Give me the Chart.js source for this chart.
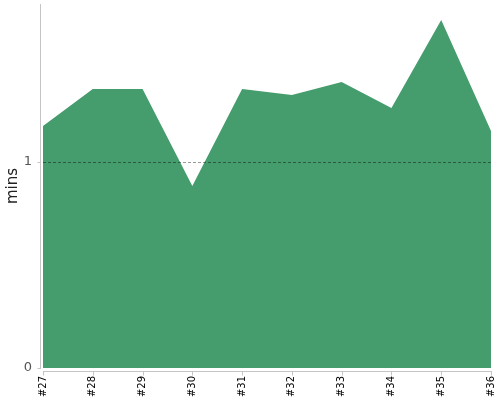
<!DOCTYPE html>
<html lang="en">

<head>
    <meta charset="UTF-8">
    <title>Build times</title>
    <script src="https://cdn.jsdelivr.net/npm/chart.js"></script>
    <style>
        html, body { margin: 0; padding: 0; background: #fff; }
        #wrap { width: 500px; height: 400px; }
    </style>
</head>

<body>
    <div id="wrap"><canvas id="buildChart" width="500" height="400"></canvas></div>
    <script>
        // Data
        const builds = ['#27', '#28', '#29', '#30', '#31', '#32', '#33', '#34', '#35', '#36'];
        const minutes = [1.175, 1.354, 1.354, 0.883, 1.354, 1.325, 1.388, 1.262, 1.689, 1.150];
        const yTicks = [0, 1];
        const refLine = 1;

        const axisColor = '#c4c4c4';

        // Dashed reference line on top of the area, plus offset axis lines and ticks
        const refLinePlugin = {
            id: 'refLine',
            afterDatasetsDraw(chart) {
                const { ctx, chartArea, scales } = chart;
                const y = Math.round(scales.y.getPixelForValue(refLine)) + 0.5;
                ctx.save();
                ctx.strokeStyle = 'rgba(0, 0, 0, 0.4)';
                ctx.lineWidth = 1;
                ctx.setLineDash([3, 2]);
                ctx.beginPath();
                ctx.moveTo(chartArea.left, y);
                ctx.lineTo(chartArea.right, y);
                ctx.stroke();
                ctx.setLineDash([]);

                // axes sit a few pixels away from the plot
                ctx.strokeStyle = axisColor;
                const ax = Math.round(chartArea.left) - 3 + 0.5;
                const ay = Math.round(chartArea.bottom) + 3 + 0.5;
                ctx.beginPath();
                ctx.moveTo(ax, chartArea.top);
                ctx.lineTo(ax, chartArea.bottom + 1);
                yTicks.forEach(v => {
                    const ty = Math.round(scales.y.getPixelForValue(v)) + 0.5;
                    ctx.moveTo(ax - 3, ty);
                    ctx.lineTo(ax, ty);
                });
                ctx.moveTo(chartArea.left, ay);
                ctx.lineTo(chartArea.right + 1, ay);
                builds.forEach((b, i) => {
                    const tx = Math.round(scales.x.getPixelForValue(i)) + 0.5;
                    ctx.moveTo(tx, ay);
                    ctx.lineTo(tx, ay + 4);
                });
                ctx.stroke();
                ctx.restore();
            }
        };

        new Chart(document.getElementById('buildChart'), {
            type: 'line',
            data: {
                labels: builds,
                datasets: [{
                    data: minutes,
                    fill: 'origin',
                    backgroundColor: '#459c6d',
                    borderWidth: 0,
                    pointRadius: 0,
                    tension: 0
                }]
            },
            options: {
                responsive: false,
                animation: false,
                layout: { padding: { top: 4, right: 9, left: 0, bottom: 0 } },
                plugins: {
                    legend: { display: false },
                    tooltip: { enabled: false }
                },
                scales: {
                    x: {
                        offset: false,
                        afterFit(scale) {
                            scale.height = 32;
                            scale.paddingLeft = 0;
                            scale.paddingRight = 0;
                        },
                        grid: { display: false, drawTicks: true, tickLength: 4, tickColor: 'rgba(0,0,0,0)' },
                        border: { display: false },
                        ticks: {
                            color: '#000',
                            font: { family: 'DejaVu Sans', size: 10 },
                            maxRotation: 90,
                            minRotation: 90,
                            autoSkip: false,
                            padding: 4
                        }
                    },
                    y: {
                        min: 0,
                        max: 1.767,
                        afterBuildTicks(scale) {
                            scale.ticks = yTicks.map(v => ({ value: v }));
                        },
                        afterFit(scale) {
                            scale.width = 43;
                            scale.paddingTop = 0;
                            scale.paddingBottom = 0;
                        },
                        grid: { display: false, drawTicks: true, tickLength: 4, tickColor: 'rgba(0,0,0,0)' },
                        border: { display: false },
                        ticks: {
                            color: '#555',
                            font: { family: 'DejaVu Sans', size: 13 },
                            padding: 7
                        },
                        title: {
                            display: true,
                            text: 'mins',
                            color: '#222',
                            font: { family: 'DejaVu Sans', size: 15 },
                            padding: { top: 4, bottom: 0 }
                        }
                    }
                }
            },
            plugins: [refLinePlugin]
        });
    </script>
</body>

</html>
